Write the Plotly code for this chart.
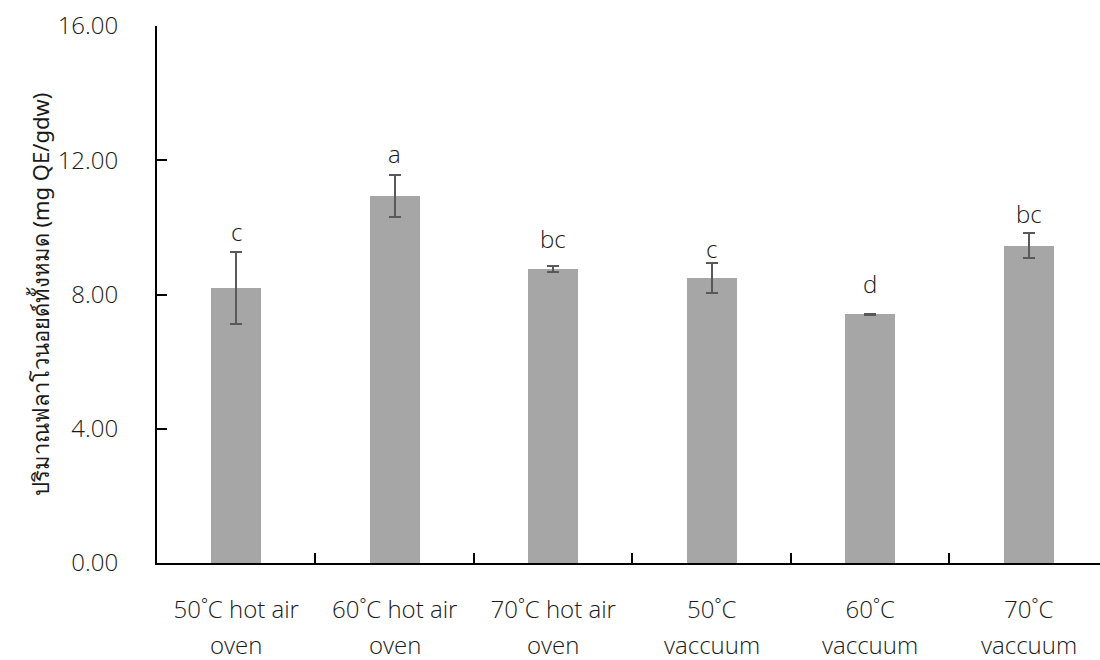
import plotly.graph_objects as go

line1 = ["50˚C hot air", "60˚C hot air", "70˚C hot air", "50˚C", "60˚C", "70˚C"]
line2 = ["oven", "oven", "oven", "vaccuum", "vaccuum", "vaccuum"]
values = [8.19, 10.93, 8.76, 8.50, 7.41, 9.46]
errors = [1.08, 0.63, 0.09, 0.45, 0.02, 0.37]
letters = ["c", "a", "bc", "c", "d", "bc"]
letter_y = [9.33, 11.65, 9.13, 8.83, 7.78, 9.85]
ytick_vals = [0, 4, 8, 12, 16]
ytick_text = ["0.00", "4.00", "8.00", "12.00", "16.00"]
ytitle = "ปริมาณฟลาโวนอยด์ทั้งหมด (mg QE/gdw)"

FONT = "Open Sans, Noto Sans, sans-serif"
TXT = "#1a1a1a"
FS = 24
W = 300
xs = list(range(len(values)))

def f(size=FS, weight=W, family=FONT):
    return dict(size=size, color=TXT, family=family, weight=weight)

fig = go.Figure()
fig.add_trace(go.Bar(
    x=xs, y=values, width=0.315,
    marker=dict(color="#A6A6A6", line=dict(width=0)),
    error_y=dict(type="data", array=errors, visible=True,
                 color="#595959", thickness=2, width=6),
    showlegend=False,
))

for x, y, t in zip(xs, letter_y, letters):
    fig.add_annotation(x=x, y=y, xref="x", yref="y", text=t, showarrow=False,
                       yanchor="bottom", font=f())

for x, t in zip(xs, line2):
    fig.add_annotation(x=x, y=0, xref="x", yref="paper", yshift=-81, text=t,
                       showarrow=False, yanchor="middle", borderpad=0, font=f())

fig.update_layout(
    width=1100, height=660,
    margin=dict(l=157, r=0, t=26, b=97),
    plot_bgcolor="white", paper_bgcolor="white",
    font=f(),
    bargap=0,
)
fig.update_xaxes(
    range=[-0.5, 5.45], tickmode="array", tickvals=xs, ticktext=line1,
    showline=True, linecolor="black", linewidth=2, mirror=False,
    ticks="", showgrid=False, zeroline=False,
    tickfont=f(),
    ticklabelstandoff=24,
)
fig.update_xaxes(minor=dict(tickmode="array", tickvals=[0.5, 1.5, 2.5, 3.5, 4.5],
                            ticks="inside", ticklen=10, tickwidth=2, tickcolor="black"))
fig.update_yaxes(
    range=[0, 16], tickmode="array", tickvals=ytick_vals, ticktext=ytick_text,
    showline=True, linecolor="black", linewidth=2,
    ticks="inside", ticklen=10, tickwidth=2, tickcolor="black",
    showgrid=False, zeroline=False,
    tickfont=f(),
    ticklabelstandoff=32,
    title=dict(text=ytitle, font=f(22, 400, "Noto Sans, sans-serif"), standoff=2),
)

fig.write_html("out.html")
